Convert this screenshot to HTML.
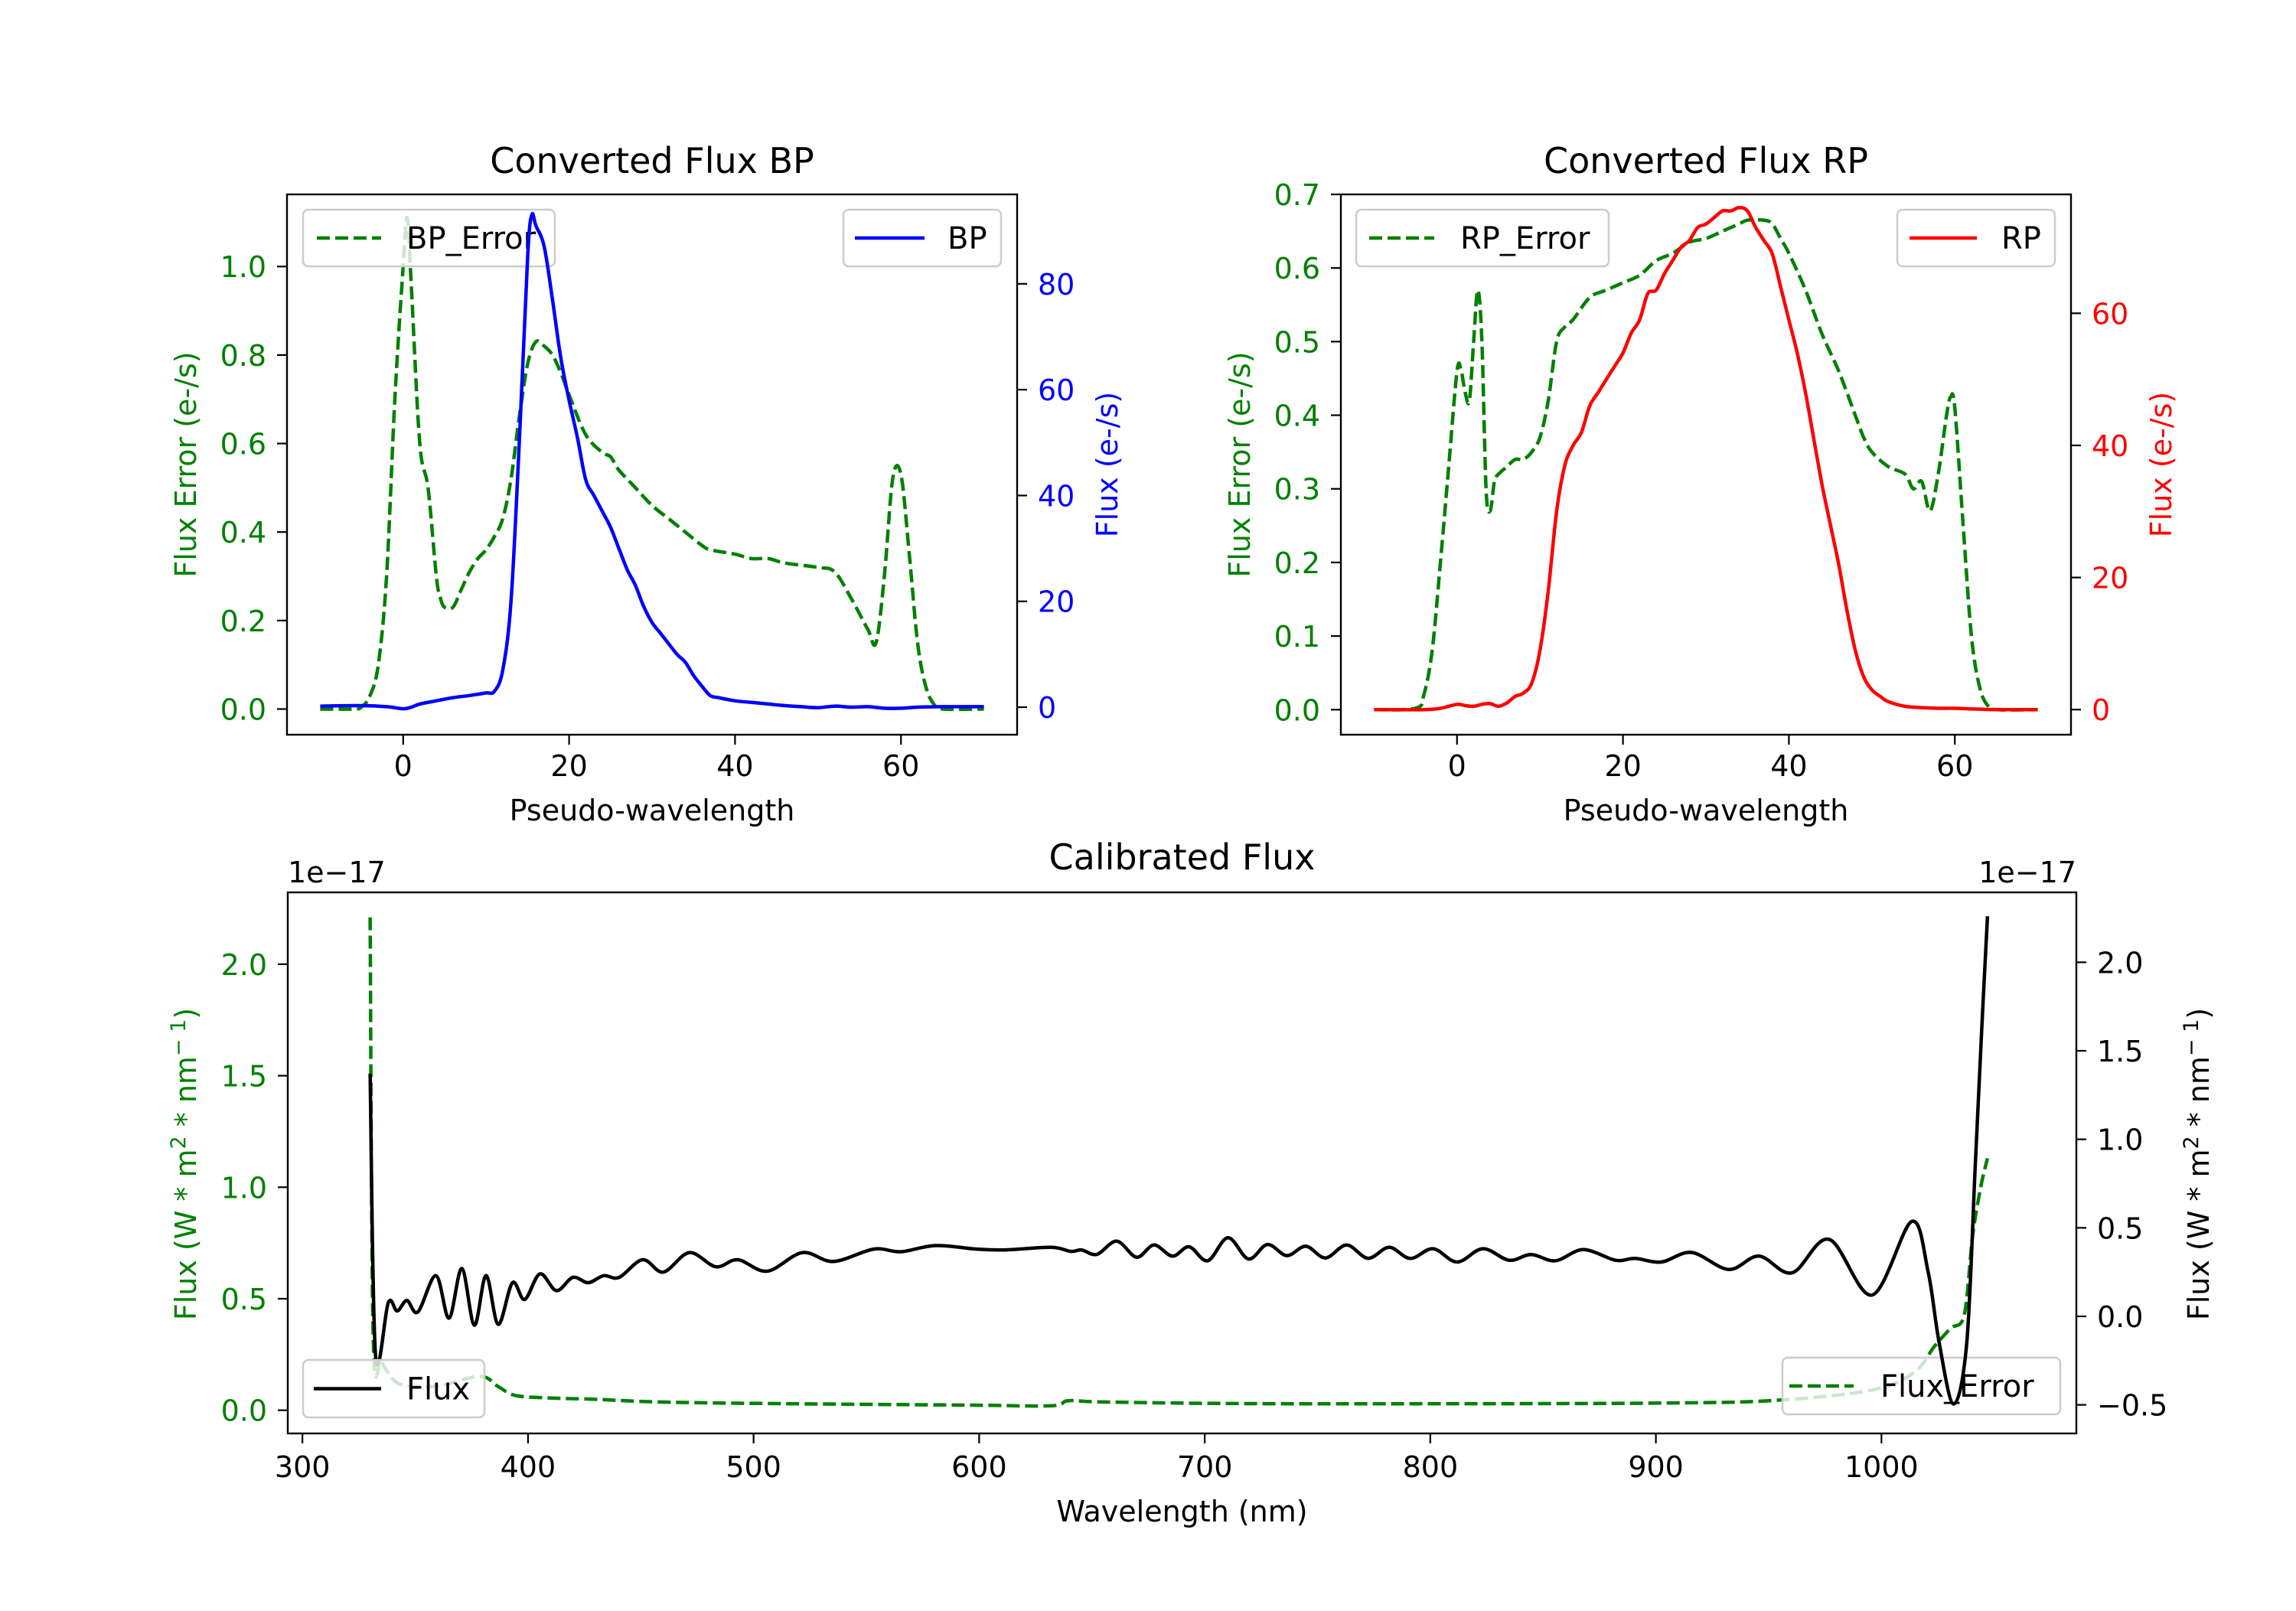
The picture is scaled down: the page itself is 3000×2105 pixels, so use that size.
<!DOCTYPE html>
<html><head><meta charset="utf-8">
<style>
html,body{margin:0;padding:0;background:#fff;}
svg text{font-family:"DejaVu Sans","Liberation Sans",sans-serif;}
</style></head>
<body>
<svg id="fig" xmlns="http://www.w3.org/2000/svg" width="3000" height="2100" viewBox="0 0 3000 2100"></svg>
<script>
// ---------- BP panel data ----------
const bpErrX = [-10,-6,-5,-4,-3,-2,-1,0,0.5,1,2,3,4,4.5,5,6,7,8,9,10,11,12,13,14,15,16,17,18,19,20,22,24,25,26,28,30,32,34,36,37,40,42,44,46,50,52,54,56,57,58,59,60,61,62,63,64,65,70];
const bpErrY = [0,0,0.005,0.03,0.1,0.3,0.7,1.0,1.11,0.95,0.6,0.5,0.3,0.25,0.23,0.23,0.27,0.31,0.34,0.36,0.39,0.43,0.52,0.66,0.78,0.83,0.82,0.8,0.76,0.71,0.62,0.58,0.57,0.54,0.5,0.46,0.43,0.4,0.37,0.36,0.35,0.34,0.34,0.33,0.32,0.31,0.25,0.18,0.15,0.3,0.52,0.53,0.35,0.15,0.05,0.01,0,0];
const bpX = [-10,-5,-2,0,1,2,4,6,8,10,11,12,13,14,15,15.5,16,17,18,19,20,21,22,23,24,25,26,27,28,29,30,31,32,33,34,35,36,37,38,40,42,44,46,48,50,52,54,56,58,60,62,65,70];
const bpY = [0.2,0.3,0.1,-0.3,0,0.6,1.2,1.8,2.2,2.7,3.0,7,20,50,85,93,91,87,77,66,58,51,43,40,37,34,30,26,23,19,16,14,12,10,8.5,6,4,2.2,1.8,1.2,0.9,0.6,0.3,0.1,-0.1,0.2,0,0.1,-0.2,-0.2,0,0.1,0.1];
// ---------- RP panel data ----------
const rpErrX = [-10,-5,-4,-3,-2,-1,0,0.5,1,1.5,2,2.5,3,3.5,4,4.5,5,6,7,8,9,10,11,12,13,14,16,18,20,22,24,26,28,30,32,34,35,37,38,39,40,42,44,46,48,49,50,52,54,55,56,57,58,59,59.5,60,61,62,63,64,65,70];
const rpErrY = [0,0.002,0.02,0.08,0.2,0.33,0.46,0.46,0.43,0.42,0.5,0.57,0.5,0.3,0.27,0.31,0.32,0.33,0.34,0.34,0.35,0.37,0.42,0.5,0.52,0.53,0.56,0.57,0.58,0.59,0.61,0.62,0.635,0.64,0.65,0.66,0.665,0.665,0.66,0.64,0.62,0.57,0.51,0.46,0.4,0.37,0.35,0.33,0.32,0.3,0.31,0.27,0.32,0.4,0.425,0.41,0.25,0.1,0.03,0.005,0,0];
const rpX = [-10,-4,-2,0,1,2,3,4,5,6,7,8,9,10,11,12,13,14,15,16,17,18,19,20,21,22,23,24,25,26,27,28,29,30,31,32,33,34,35,36,37,38,39,40,41,42,43,44,45,46,47,48,49,50,51,52,54,56,58,60,62,65,70];
const rpY = [0,0,0.2,0.8,0.6,0.5,0.8,0.9,0.5,1,2,2.5,4,9,18,30,37,40,42,46,48,50,52,54,57,59,63,63.5,66,68,70,71,73,73.5,74.5,75.5,75.5,76,75.5,73,71,69,64,59,54,48,41,34,28,22,15,9,5,3,2,1.2,0.5,0.3,0.2,0.2,0.1,0,0];
// ---------- Calibrated panel data ----------
const calX = [330,332.4,338.1,342,346.3,351.2,359.2,365,370.7,376.2,381.4,386.8,393.1,398.5,405.3,412.6,419.9,426.7,433.6,440.4,450.8,460,471.5,483.3,493,506,521.6,535.4,553.3,565.2,580.7,598.7,611.3,631.8,640.6,645.4,652.2,661,669.8,677.5,685.7,693.1,701.3,710.3,719.4,727.8,736.4,744.8,753.5,762.9,772.4,781.8,791.1,801.2,811.9,823.3,834.9,844.7,855.4,867.8,882.1,890.8,902.4,915.8,932.3,945.7,960.4,976.8,995.8,1013.4,1020.7,1025.6,1032,1037.8,1041.6,1044.6,1047];
const calFlux = [1.37,-0.22,0.08,0.03,0.09,0.025,0.23,-0.01,0.27,-0.05,0.23,-0.045,0.19,0.095,0.24,0.145,0.22,0.19,0.23,0.22,0.32,0.25,0.36,0.28,0.32,0.255,0.36,0.31,0.38,0.365,0.4,0.38,0.375,0.39,0.367,0.375,0.35,0.425,0.334,0.403,0.34,0.393,0.314,0.444,0.324,0.406,0.343,0.396,0.33,0.403,0.328,0.39,0.327,0.382,0.307,0.382,0.317,0.349,0.314,0.377,0.317,0.327,0.307,0.361,0.265,0.34,0.246,0.435,0.12,0.536,0.25,-0.15,-0.495,-0.15,0.86,1.66,2.26];
const errX = [330,331.4,335.2,342,351.7,361.6,379,386.8,394.6,410.2,429.8,458.3,507.6,595.3,631.8,639.6,655,713.6,791.5,898.7,952.3,996.4,1014.7,1023.3,1030.6,1036.7,1040.4,1044,1047];
const errY = [2.21,0.32,0.215,0.123,0.106,0.112,0.152,0.106,0.066,0.055,0.049,0.037,0.03,0.023,0.02,0.043,0.037,0.03,0.029,0.032,0.044,0.092,0.172,0.284,0.367,0.428,0.78,1.0,1.13];
// ---------- tick labels ----------
const bpXTicks = [0,20,40,60];
const bpErrTicks = [0.0,0.2,0.4,0.6,0.8,1.0];
const bpFluxTicks = [0,20,40,60,80];
const rpErrTicks = [0.0,0.1,0.2,0.3,0.4,0.5,0.6,0.7];
const rpFluxTicks = [0,20,40,60];
const calXTicks = [300,400,500,600,700,800,900,1000];
const calErrTicks = [0.0,0.5,1.0,1.5,2.0];
const calFluxTicks = [-0.5,0.0,0.5,1.0,1.5,2.0];

const FS = 38, TFS = 46, LFS = 40;
const NS = "http://www.w3.org/2000/svg";
const svg = document.getElementById('fig');
function mk(tag, attrs, parent){
  const e = document.createElementNS(NS, tag);
  for (const k in attrs) e.setAttribute(k, attrs[k]);
  (parent||svg).appendChild(e);
  return e;
}
function scale(d0,d1,p0,p1){ return v => p0 + (v-d0)/(d1-d0)*(p1-p0); }
function smoothPath(xs, ys, sx, sy){
  const p = xs.map((x,i)=>[sx(x), sy(ys[i])]);
  let d = 'M'+p[0][0].toFixed(1)+','+p[0][1].toFixed(1);
  for (let i=0;i<p.length-1;i++){
    const a=p[Math.max(0,i-1)], b=p[i], c=p[i+1], e=p[Math.min(p.length-1,i+2)];
    const c1=[b[0]+(c[0]-a[0])/6, b[1]+(c[1]-a[1])/6];
    const c2=[c[0]-(e[0]-b[0])/6, c[1]-(e[1]-b[1])/6];
    d += ' C'+c1[0].toFixed(1)+','+c1[1].toFixed(1)+' '+c2[0].toFixed(1)+','+c2[1].toFixed(1)+' '+c[0].toFixed(1)+','+c[1].toFixed(1);
  }
  return d;
}
function fmt(v, dec){ const s = v.toFixed(dec); return s.replace('-', '\u2212'); }

function text(str, x, y, opts){
  const t = mk('text', {x:x, y:y, 'font-size':opts.size||FS, fill:opts.fill||'#000', 'text-anchor':opts.anchor||'start'});
  if (opts.rotate) t.setAttribute('transform', 'rotate(-90 '+x+' '+y+')');
  t.textContent = str;
  return t;
}

function legend(box, sample, label, color, dashed, name){
  const g = mk('g', {});
  
  
  mk('rect', {x:box[0], y:box[1], width:box[2]-box[0], height:box[3]-box[1], rx:7, fill:'#fff', 'fill-opacity':0.8, stroke:'#cccccc', 'stroke-width':2.5}, g);
  const cy = (box[1]+box[3])/2;
  const l = mk('line', {x1:sample[0], x2:sample[1], y1:cy, y2:cy, stroke:color, 'stroke-width':4.5}, g);
  if (dashed) l.setAttribute('stroke-dasharray', '17,7');
  const t = mk('text', {x:sample[2], y:cy+14, 'font-size':LFS, fill:'#000'}, g);
  t.textContent = label;
}

function line(xs, ys, sx, sy, color, dashed, clip, name){
  const p = mk('path', {d:smoothPath(xs,ys,sx,sy), fill:'none', stroke:color, 'stroke-width':4.5, 'stroke-linejoin':'round', 'clip-path':'url(#'+clip+')'});
  if (dashed) p.setAttribute('stroke-dasharray', '17,7');
  
  
}

function clipRect(id, L, T, R, B){
  const cp = mk('clipPath', {id:id});
  mk('rect', {x:L, y:T, width:R-L, height:B-T}, cp);
}

function xAxis(ticks, sx, B, labelY, dec){
  ticks.forEach(v=>{
    const x = sx(v);
    mk('line', {x1:x, x2:x, y1:B, y2:B+13, stroke:'#000', 'stroke-width':2.2});
    const t = text(fmt(v,dec), x, labelY, {anchor:'middle'});
    
    
  });
}
function yAxis(ticks, sy, X, side, color, dec){
  ticks.forEach(v=>{
    const y = sy(v);
    const dx = side==='left' ? -13 : 13;
    mk('line', {x1:X, x2:X+dx, y1:y, y2:y, stroke:'#000', 'stroke-width':2.2});
    const t = text(fmt(v,dec), side==='left' ? X-27 : X+27, y+14, {anchor: side==='left'?'end':'start', fill:color});
    
    
  });
}
function frame(L,T,R,B,name){
  const r = mk('rect', {x:L, y:T, width:R-L, height:B-T, fill:'none', stroke:'#000', 'stroke-width':2.4});
  
  
}

// ================= BP panel =================
(function(){
  const L=375,R=1329,T=254,B=960;
  const sx = scale(-14,74,L,R);
  const syE = scale(-0.058,1.163,B,T);
  const syF = scale(-5.2,96.9,B,T);
  clipRect('clipBP',L,T,R,B);
  const ti = text('Converted Flux BP', 852, 226, {size:TFS, anchor:'middle'});
   
  line(bpErrX, bpErrY, sx, syE, '#008000', true, 'clipBP', 'bp-error-line');
  legend([396,274,725,348],[414,498,531],'BP_Error','#008000',true,'bp-error-legend');
  line(bpX, bpY, sx, syF, '#0000ff', false, 'clipBP', 'bp-flux-line');
  legend([1102,274,1308,348],[1117,1208,1238],'BP','#0000ff',false,'bp-legend');
  frame(L,T,R,B,'bp-axes-frame');
  xAxis(bpXTicks, sx, B, 1014, 0);
  yAxis(bpErrTicks, syE, L, 'left', '#008000', 1);
  yAxis(bpFluxTicks, syF, R, 'right', '#0000ff', 0);
  let t = text('Pseudo-wavelength', (L+R)/2, 1072, {anchor:'middle'});
   
  t = text('Flux Error (e-/s)', 256, (T+B)/2, {anchor:'middle', fill:'#008000', rotate:true});
   
  t = text('Flux (e-/s)', 1460, (T+B)/2, {anchor:'middle', fill:'#0000ff', rotate:true});
   
})();

// ================= RP panel =================
(function(){
  const L=1752,R=2706,T=254,B=960;
  const sx = scale(-14,74,L,R);
  const syE = scale(-0.034,0.7,B,T);
  const syF = scale(-3.8,78.0,B,T);
  clipRect('clipRP',L,T,R,B);
  const ti = text('Converted Flux RP', (L+R)/2, 226, {size:TFS, anchor:'middle'});
   
  line(rpErrX, rpErrY, sx, syE, '#008000', true, 'clipRP', 'rp-error-line');
  legend([1772,274,2102,348],[1789,1874,1908],'RP_Error','#008000',true,'rp-error-legend');
  line(rpX, rpY, sx, syF, '#ff0000', false, 'clipRP', 'rp-flux-line');
  legend([2479,274,2685,348],[2495,2583,2615],'RP','#ff0000',false,'rp-legend');
  frame(L,T,R,B,'rp-axes-frame');
  xAxis(bpXTicks, sx, B, 1014, 0);
  yAxis(rpErrTicks, syE, L, 'left', '#008000', 1);
  yAxis(rpFluxTicks, syF, R, 'right', '#ff0000', 0);
  let t = text('Pseudo-wavelength', (L+R)/2, 1072, {anchor:'middle'});
   
  t = text('Flux Error (e-/s)', 1633, (T+B)/2, {anchor:'middle', fill:'#008000', rotate:true});
   
  t = text('Flux (e-/s)', 2837, (T+B)/2, {anchor:'middle', fill:'#ff0000', rotate:true});
   
})();

// ================= Calibrated panel =================
(function(){
  const L=376,R=2713,T=1166,B=1873;
  const sx = scale(293.5,1086.4,L,R);
  const syE = scale(-0.104,2.322,B,T);
  const syF = scale(-0.6615,2.395,B,T);
  clipRect('clipCal',L,T,R,B);
  let t = text('Calibrated Flux', (L+R)/2, 1136, {size:TFS, anchor:'middle'});
   
  t = text('1e\u221217', L, 1153, {anchor:'start'});
   
  t = text('1e\u221217', R, 1153, {anchor:'end'});
   
  line(errX, errY, sx, syE, '#008000', true, 'clipCal', 'flux-error-line');
  legend([2329,1774,2692,1848],[2338,2422,2457],'Flux_Error','#008000',true,'flux-error-legend');
  line(calX, calFlux, sx, syF, '#000000', false, 'clipCal', 'calibrated-flux-line');
  legend([396,1777,633,1852],[410,498,531],'Flux','#000000',false,'flux-legend');
  frame(L,T,R,B,'calibrated-axes-frame');
  xAxis(calXTicks, sx, B, 1930, 0);
  yAxis(calErrTicks, syE, L, 'left', '#008000', 1);
  yAxis(calFluxTicks, syF, R, 'right', '#000000', 1);
  t = text('Wavelength (nm)', (L+R)/2, 1988, {anchor:'middle'});
   
  function unitLabel(x, color, name){
    const tt = mk('text', {x:x, y:1521, 'font-size':FS, fill:color, 'text-anchor':'middle', transform:'rotate(-90 '+x+' 1521)'});
    
    
    tt.appendChild(document.createTextNode('Flux (W * m'));
    const s1 = mk('tspan', {dy:-14, 'font-size':27}, tt); s1.textContent='2';
    const s2 = mk('tspan', {dy:14}, tt); s2.textContent=' * nm';
    const s3 = mk('tspan', {dy:-14, 'font-size':27}, tt); s3.textContent='\u2212 1';
    const s4 = mk('tspan', {dy:14}, tt); s4.textContent=')';
  }
  unitLabel(256, '#008000', 'calibrated-left-y-axis-title');
  unitLabel(2886, '#000000', 'calibrated-right-y-axis-title');
})();
</script>
</body></html>
